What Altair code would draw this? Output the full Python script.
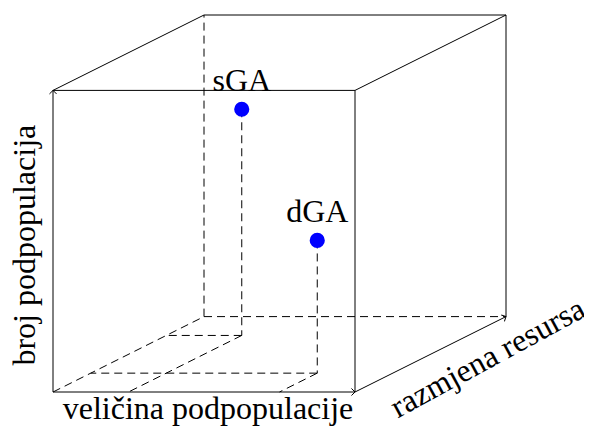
import math
import altair as alt
import pandas as pd

# ---- data (3D coordinates in the unit cube: u = veličina, v = broj, w = razmjena) ----
point_names = ["sGA", "dGA"]
point_u = [0.25, 0.75]
point_v = [0.75, 0.44]
point_w = [0.75, 0.25]

axis_titles = ["veličina podpopulacije", "broj podpopulacija", "razmjena resursa"]

# cube edges as pairs of corners (u, v, w)
solid_edges = [
    ((0, 0, 0), (1, 0, 0)), ((1, 0, 0), (1, 1, 0)), ((1, 1, 0), (0, 1, 0)), ((0, 1, 0), (0, 0, 0)),
    ((0, 1, 0), (0, 1, 1)), ((0, 1, 1), (1, 1, 1)), ((1, 1, 1), (1, 1, 0)),
    ((1, 1, 1), (1, 0, 1)), ((1, 0, 0), (1, 0, 1)),
]
hidden_edges = [
    ((0, 0, 0), (0, 0, 1)), ((0, 0, 1), (0, 1, 1)), ((0, 0, 1), (1, 0, 1)),
]

# oblique projection of the depth axis
DX, DY = 0.5, 0.25


def proj(u, v, w):
    return u + DX * w, v + DY * w


def seg_rows(edges):
    rows = []
    for a, b in edges:
        x, y = proj(*a)
        x2, y2 = proj(*b)
        rows.append({"x": x, "y": y, "x2": x2, "y2": y2})
    return rows


# projection (drop) lines of the two points
drop_edges = []
for u, v, w in zip(point_u, point_v, point_w):
    drop_edges.append(((u, v, w), (u, 0, w)))
    drop_edges.append(((u, 0, w), (0, 0, w)))
    drop_edges.append(((u, 0, w), (u, 0, 0)))

solid_df = pd.DataFrame(seg_rows(solid_edges))
dashed_df = pd.DataFrame(seg_rows(hidden_edges + drop_edges))

pts = []
for n, u, v, w in zip(point_names, point_u, point_v, point_w):
    x, y = proj(u, v, w)
    pts.append({"name": n, "x": x, "y": y})
pts_df = pd.DataFrame(pts)

# arrowheads at axis ends
W, H = 453, 377
XDOM, YDOM = 1.5, 1.25
sx, sy = W / XDOM, H / YDOM
zang = math.degrees(math.atan2(-DY * sy, DX * sx)) % 360
arrow_rows = []
for end, ang in [((1, 0, 0), 0), ((0, 1, 0), 270), ((1, 0, 1), zang)]:
    x, y = proj(*end)
    arrow_rows.append({"x": x, "y": y, "angle": ang})
arrow_df = pd.DataFrame(arrow_rows)

xs = alt.Scale(domain=[0, XDOM])
ys = alt.Scale(domain=[0, YDOM])
X = alt.X("x:Q", scale=xs, axis=None)
Y = alt.Y("y:Q", scale=ys, axis=None)

FONT = "Liberation Serif, Times New Roman, serif"

solid = alt.Chart(solid_df).mark_rule(color="black", strokeWidth=1).encode(
    x=X, y=Y, x2="x2:Q", y2="y2:Q"
)
dashed = alt.Chart(dashed_df).mark_rule(color="black", strokeWidth=1, strokeDash=[8, 5]).encode(
    x=X, y=Y, x2="x2:Q", y2="y2:Q"
)
arrows = alt.Chart(arrow_df).mark_point(
    shape="M-1,-1L0,0L-1,1", filled=False, color="black", strokeWidth=1, size=50, opacity=1
).encode(x=X, y=Y, angle=alt.Angle("angle:Q", scale=None))

dots = alt.Chart(pts_df).mark_circle(color="#0000ff", size=230, opacity=1).encode(x=X, y=Y)
dot_labels = alt.Chart(pts_df).mark_text(
    font=FONT, fontSize=32, dy=-18, baseline="alphabetic", align="center", color="black"
).encode(x=X, y=Y, text="name:N")


def label_df(title, u, v, w):
    x, y = proj(u, v, w)
    return pd.DataFrame([{"t": title, "x": x, "y": y}])


lab_x = alt.Chart(label_df(axis_titles[0], 0.5, 0, 0)).mark_text(
    font=FONT, fontSize=32, dy=27, dx=4, baseline="alphabetic", align="center", color="black"
).encode(x=X, y=Y, text="t:N")
lab_y = alt.Chart(label_df(axis_titles[1], 0, 0.5, 0)).mark_text(
    font=FONT, fontSize=32, dy=-18, dx=-4, angle=270, baseline="alphabetic", align="center",
    color="black"
).encode(x=X, y=Y, text="t:N")
lab_z = alt.Chart(label_df(axis_titles[2], 1, 0, 0.8)).mark_text(
    font=FONT, fontSize=32, dy=29, dx=-2, angle=331.5, baseline="middle", align="center", color="black"
).encode(x=X, y=Y, text="t:N")

chart = alt.layer(solid, dashed, arrows, dots, dot_labels, lab_x, lab_y, lab_z).properties(
    width=W, height=H,
    background="white",
    autosize=alt.AutoSizeParams(type="none"),
    padding={"left": 45, "top": 7, "right": 78, "bottom": 34},
).configure_view(stroke=None)

chart.save("out.html", embed_options={"renderer": "svg", "actions": False})
